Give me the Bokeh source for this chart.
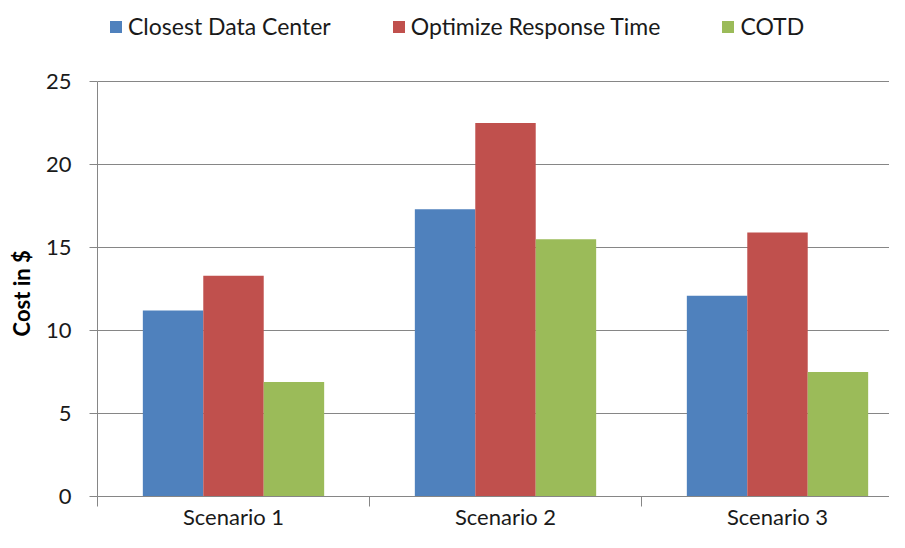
import numpy as np
from bokeh.plotting import figure
from bokeh.models import Range1d, FixedTicker
from bokeh.embed import file_html
from bokeh.resources import INLINE

categories = ["Scenario 1", "Scenario 2", "Scenario 3"]
series_names = ["Closest Data Center", "Optimize Response Time", "COTD"]
closest_dc = [11.2, 17.3, 12.1]
optimize_rt = [13.3, 22.5, 15.9]
cotd = [6.9, 15.5, 7.5]
y_ticks = [0, 5, 10, 15, 20, 25]
y_title = "Cost in $"
colors = ["#4F81BD", "#C0504D", "#9BBB59"]

FONT = "Lato"
GRAY = "#868686"
TXT = "#1a1a1a"

# layout (pixels)
W, H = 889, 532
LEFT, TOP, BOTTOM = 97, 4, 36
AXIS_TOP = 81          # pixel row of the top tick value
frame_h = H - TOP - BOTTOM
ppu = (H - BOTTOM - AXIS_TOP) / y_ticks[-1]
y_end = y_ticks[-1] + (AXIS_TOP - TOP) / ppu

bar_w = 1 / 4.5
centers = np.arange(len(categories)) + 0.5

p = figure(width=W, height=H, output_backend="svg", toolbar_location=None,
           x_range=Range1d(0, (W - LEFT) / 272), y_range=Range1d(0, y_end),
           min_border_left=LEFT, min_border_top=TOP, min_border_right=0, min_border_bottom=BOTTOM)
p.outline_line_color = None
p.background_fill_color = "white"

for i, (vals, name) in enumerate(zip([closest_dc, optimize_rt, cotd], series_names)):
    p.vbar(x=centers + (i - 1) * bar_w, top=vals, width=bar_w, fill_color=colors[i],
           line_color=None, legend_label=name)

p.xgrid.visible = False
p.ygrid.grid_line_color = GRAY
p.ygrid.grid_line_width = 1

p.yaxis.ticker = FixedTicker(ticks=y_ticks)
p.yaxis.bounds = (y_ticks[0], y_ticks[-1])
p.yaxis.axis_line_color = GRAY
p.yaxis.major_tick_line_color = GRAY
p.yaxis.major_tick_out = 8
p.yaxis.major_tick_in = 0
p.yaxis.minor_tick_line_color = None
p.yaxis.major_label_text_font = FONT
p.yaxis.major_label_text_font_size = "22px"
p.yaxis.major_label_text_color = TXT
p.yaxis.major_label_standoff = 18
# trailing no-break spaces centre the title on the 0..25 span instead of the taller frame
p.yaxis.axis_label = y_title + "\u00a0" * 16
p.yaxis.axis_label_text_font = FONT
p.yaxis.axis_label_text_font_style = "bold"
p.yaxis.axis_label_text_font_size = "22px"
p.yaxis.axis_label_text_color = "#000000"
p.yaxis.axis_label_standoff = 8

p.xaxis.ticker = FixedTicker(ticks=list(centers), minor_ticks=list(range(len(categories) + 1)))
p.xaxis.major_label_overrides = {float(c): lab for c, lab in zip(centers, categories)}
p.xaxis.axis_line_color = GRAY
p.xaxis.major_tick_line_color = None
p.xaxis.major_tick_out = 0
p.xaxis.major_tick_in = 0
p.xaxis.minor_tick_line_color = GRAY
p.xaxis.minor_tick_out = 10
p.xaxis.minor_tick_in = 0
p.xaxis.major_label_text_font = FONT
p.xaxis.major_label_text_font_size = "22px"
p.xaxis.major_label_text_color = TXT
p.xaxis.major_label_standoff = -4

lg = p.legend[0]
lg.location = (11, frame_h - 36)
lg.orientation = "horizontal"
lg.border_line_color = None
lg.background_fill_alpha = 0
lg.glyph_width = 15
lg.glyph_height = 15
lg.label_standoff = 5
lg.spacing = 60
lg.padding = 4
lg.margin = 0
lg.label_text_font = FONT
lg.label_text_font_size = "23px"
lg.label_text_color = TXT

open("out.html", "w").write(file_html(p, INLINE))
